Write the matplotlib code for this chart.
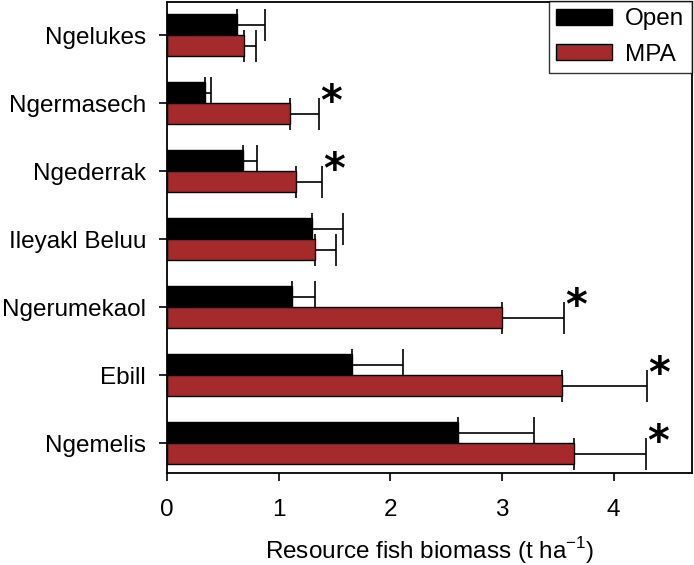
import numpy as np
import matplotlib
matplotlib.use("Agg")
import matplotlib.pyplot as plt

plt.rcParams['font.family'] = ['Liberation Sans', 'DejaVu Sans']
plt.rcParams['mathtext.fontset'] = 'custom'
plt.rcParams['mathtext.rm'] = 'Liberation Sans'

sites = ["Ngelukes", "Ngermasech", "Ngederrak", "Ileyakl Beluu",
         "Ngerumekaol", "Ebill", "Ngemelis"]
open_mean = [0.63, 0.34, 0.68, 1.30, 1.12, 1.66, 2.61]
open_se = [0.25, 0.05, 0.13, 0.28, 0.21, 0.45, 0.68]
mpa_mean = [0.69, 1.10, 1.16, 1.33, 3.00, 3.54, 3.65]
mpa_se = [0.11, 0.26, 0.23, 0.18, 0.56, 0.76, 0.64]
significant = [False, True, True, False, True, True, True]

red = '#a42a2b'
fs = 17.5

fig = plt.figure(figsize=(6.94, 5.65), dpi=100)
ax = fig.add_axes([0.2406, 0.1628, 0.9967 - 0.2406, 0.9965 - 0.1628])

y = np.arange(len(sites))
h = 0.31

ax.barh(y - h / 2, open_mean, height=h, color='black', edgecolor='black',
        linewidth=1, label='Open', zorder=3)
ax.barh(y + h / 2, mpa_mean, height=h, color=red, edgecolor='black',
        linewidth=1, label='MPA', zorder=3)

# only the upper half of the error bar is visible, lower cap hides under bar
ax.errorbar(open_mean, y - h / 2, xerr=[np.zeros(len(sites)), open_se],
            fmt='none', ecolor='black', elinewidth=1.2, capsize=11.5,
            capthick=1.2, zorder=2)
ax.errorbar(mpa_mean, y + h / 2, xerr=[np.zeros(len(sites)), mpa_se],
            fmt='none', ecolor='black', elinewidth=1.2, capsize=11.5,
            capthick=1.2, zorder=2)

for i, sig in enumerate(significant):
    if sig:
        ax.text(mpa_mean[i] + mpa_se[i] + 0.01, y[i], '*',
                fontsize=30, fontweight='bold', ha='left', va='center',
                family='DejaVu Sans')

ax.set_xlim(0, 4.70)
ax.set_ylim(-0.49, 6.44)
ax.invert_yaxis()
ax.set_yticks(y)
ax.set_yticklabels(sites)
ax.set_xticks([0, 1, 2, 3, 4])

ax.tick_params(axis='both', labelsize=fs, direction='out', width=1.2)
ax.tick_params(axis='y', length=6, pad=9)
ax.tick_params(axis='x', length=6, pad=13)
for sp in ax.spines.values():
    sp.set_linewidth(1.3)

ax.set_xlabel(r'Resource fish biomass (t ha$^{\mathregular{-1}}$)',
              fontsize=fs, labelpad=10)

leg = ax.legend(loc='upper right', bbox_to_anchor=(1.0, 1.002), fontsize=fs,
                frameon=True, fancybox=False, handlelength=2.3,
                handleheight=0.66, borderaxespad=0, borderpad=0.3,
                labelspacing=0.55, handletextpad=0.55)
leg.get_frame().set_edgecolor('black')
leg.get_frame().set_linewidth(1.0)

fig.savefig('out.png', dpi=100)
